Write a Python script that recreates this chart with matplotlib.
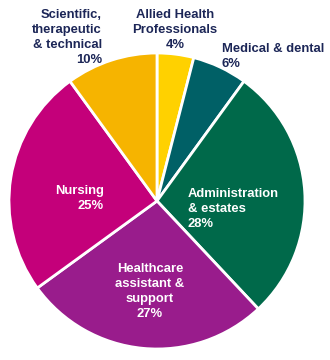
import matplotlib
matplotlib.use("Agg")
import matplotlib.pyplot as plt

categories = ["Allied Health\nProfessionals", "Medical & dental", "Administration\n& estates",
              "Healthcare\nassistant &\nsupport", "Nursing", "Scientific,\ntherapeutic\n& technical"]
values = [4, 6, 28, 27, 25, 10]
colors = ["#FFD100", "#006066", "#00694A", "#991C8C", "#C4007A", "#F6B400"]

W, H = 330, 360
fig = plt.figure(figsize=(W / 100, H / 100), dpi=100)
cx, cy, r = 157, 201, 148
ax = fig.add_axes([(cx - r) / W, (H - cy - r) / H, 2 * r / W, 2 * r / H])
ax.pie(values, colors=colors, startangle=90, counterclock=False,
       wedgeprops=dict(edgecolor="white", linewidth=2))
ax.set_xlim(-1, 1)
ax.set_ylim(-1, 1)
ax.set_aspect("equal")
ax.axis("off")

font = dict(family="Liberation Sans", fontweight="bold", fontsize=9.4, linespacing=1.33)
navy = "#1C2657"

def lab(x, y, s, ha, color):
    fig.text(x / W, 1 - y / H, s, ha=ha, va="top", color=color, **font)

lab(102, 9, f"{categories[5]}\n{values[5]}%", "right", navy)
lab(175, 9, f"{categories[0]}\n{values[0]}%", "center", navy)
lab(222, 43, f"{categories[1]}\n{values[1]}%", "left", navy)
lab(104, 185, f"{categories[4]}\n{values[4]}%", "right", "white")
lab(188, 188, f"{categories[2]}\n{values[2]}%", "left", "white")
lab(150, 263, f"{categories[3]}\n{values[3]}%", "center", "white")

fig.savefig("out.png", dpi=100, facecolor="white")
